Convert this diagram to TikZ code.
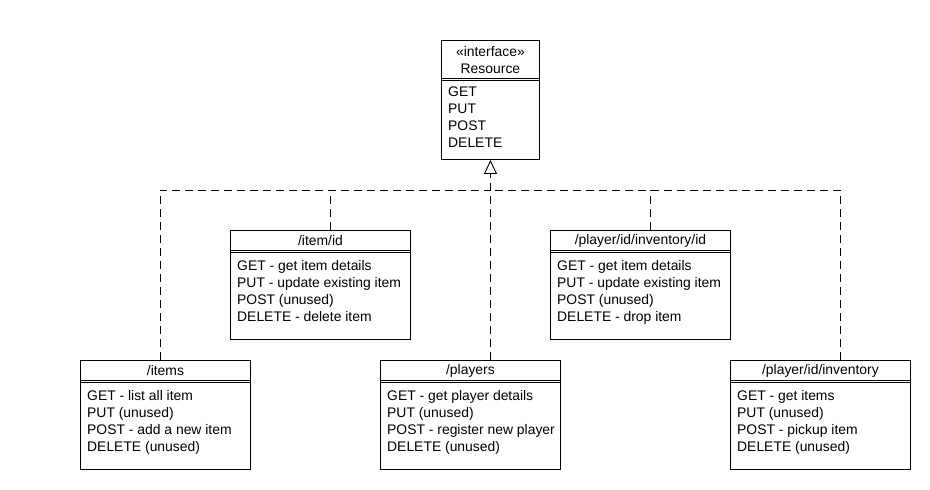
\documentclass[tikz,border=0pt]{standalone}
\usepackage{fontspec}
\setmainfont{Liberation Sans}
\usepackage{tikz}
\usetikzlibrary{arrows.meta,calc}

\tikzset{
cls/.style={draw,line width=0.9pt,rectangle,anchor=north west,inner sep=0pt},
ttl/.style={font=\fontsize{13.9}{17}\selectfont,align=center,inner sep=0pt},
ops/.style={font=\fontsize{13.9}{17}\selectfont,align=left,anchor=north west,inner sep=0pt},
sep/.style={line width=0.9pt},
dep/.style={line width=0.9pt,dash pattern=on 8pt off 5pt}
}

\begin{document}
\begin{tikzpicture}[x=1pt,y=-1pt]
\useasboundingbox (0,0) rectangle (930,490);
% interface
\node[cls,minimum width=98pt,minimum height=119pt](res) at (441,40){};
\node[ttl](res-t) at ([yshift=-20pt]res.north){«interface»\\Resource};
\draw[sep]([yshift=-38pt]res.north west)--([yshift=-38pt]res.north east);
\draw[sep]([yshift=-40pt]res.north west)--([yshift=-40pt]res.north east);
\node[ops](res-m) at ([xshift=7pt,yshift=-47pt]res.north west){GET\\PUT\\POST\\DELETE};
% resources
\node[cls,minimum width=180pt,minimum height=109pt](itemid) at (230,230){};
\node[ttl](itemid-t) at ([yshift=-11pt]itemid.north){/item/id};
\draw[sep]([yshift=-20pt]itemid.north west)--([yshift=-20pt]itemid.north east);
\draw[sep]([yshift=-22pt]itemid.north west)--([yshift=-22pt]itemid.north east);
\node[ops](itemid-m) at ([xshift=7pt,yshift=-30pt]itemid.north west){GET - get item details\\PUT - update existing item\\POST (unused)\\DELETE - delete item};
\node[cls,minimum width=180pt,minimum height=109pt](invid) at (550,230){};
\node[ttl](invid-t) at ([yshift=-11pt]invid.north){/player/id/inventory/id};
\draw[sep]([yshift=-20pt]invid.north west)--([yshift=-20pt]invid.north east);
\draw[sep]([yshift=-22pt]invid.north west)--([yshift=-22pt]invid.north east);
\node[ops](invid-m) at ([xshift=7pt,yshift=-30pt]invid.north west){GET - get item details\\PUT - update existing item\\POST (unused)\\DELETE - drop item};
\node[cls,minimum width=170pt,minimum height=109pt](items) at (80,360){};
\node[ttl](items-t) at ([yshift=-11pt]items.north){/items};
\draw[sep]([yshift=-20pt]items.north west)--([yshift=-20pt]items.north east);
\draw[sep]([yshift=-22pt]items.north west)--([yshift=-22pt]items.north east);
\node[ops](items-m) at ([xshift=7pt,yshift=-30pt]items.north west){GET - list all item\\PUT (unused)\\POST - add a new item\\DELETE (unused)};
\node[cls,minimum width=180pt,minimum height=109pt](players) at (380,360){};
\node[ttl](players-t) at ([yshift=-11pt]players.north){/players};
\draw[sep]([yshift=-20pt]players.north west)--([yshift=-20pt]players.north east);
\draw[sep]([yshift=-22pt]players.north west)--([yshift=-22pt]players.north east);
\node[ops](players-m) at ([xshift=7pt,yshift=-30pt]players.north west){GET - get player details\\PUT (unused)\\POST - register new player\\DELETE (unused)};
\node[cls,minimum width=180pt,minimum height=109pt](inv) at (730,360){};
\node[ttl](inv-t) at ([yshift=-11pt]inv.north){/player/id/inventory};
\draw[sep]([yshift=-20pt]inv.north west)--([yshift=-20pt]inv.north east);
\draw[sep]([yshift=-22pt]inv.north west)--([yshift=-22pt]inv.north east);
\node[ops](inv-m) at ([xshift=7pt,yshift=-30pt]inv.north west){GET - get items\\PUT (unused)\\POST - pickup item\\DELETE (unused)};
% realizations
\coordinate(bus) at (490,190);
\draw[dep]([xshift=-5pt]items.north)|-(bus);
\draw[dep]([xshift=20pt]inv.north)|-(bus);
\draw[dep]([xshift=10pt]itemid.north)--([xshift=10pt]itemid.north|-bus);
\draw[dep]([xshift=10pt]invid.north)--([xshift=10pt]invid.north|-bus);
\draw[dep,-{Triangle[open,length=14pt,width=13pt,line width=0.9pt]}]([xshift=20pt]players.north)--(res.south);
\end{tikzpicture}
\end{document}
